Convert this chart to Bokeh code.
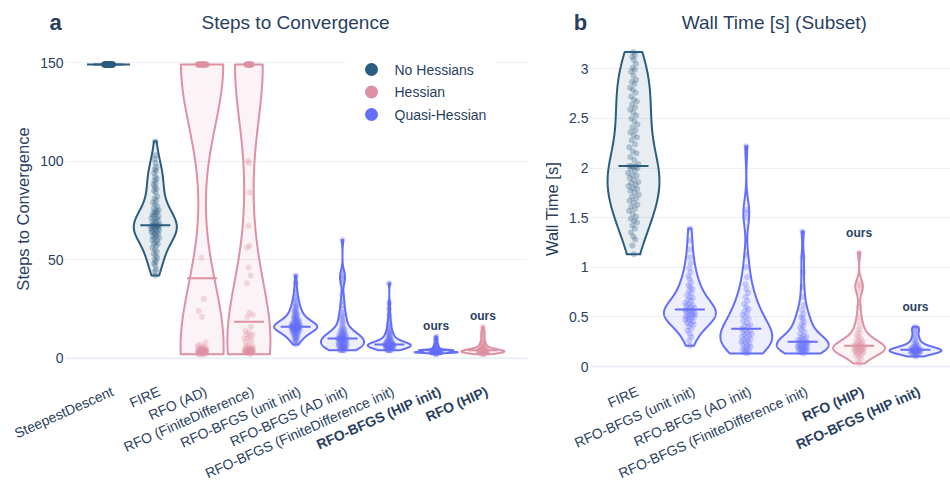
import numpy as np
from bokeh.plotting import figure
from bokeh.layouts import row
from bokeh.models import Span, Range1d, NumeralTickFormatter
from bokeh.core.properties import value
from bokeh.embed import file_html
from bokeh.resources import INLINE

FONT = "Liberation Sans"
INK = "#2a3f5f"
GRID = "#ebf0f8"
FAMILY_COLORS = {"No Hessians": "#2a5d80", "Hessian": "#dd91a2", "Quasi-Hessian": "#636efa"}
legend_labels = ["No Hessians", "Hessian", "Quasi-Hessian"]

# ---------------- panel a : steps to convergence ----------------
steps_categories = ["SteepestDescent", "FIRE", "RFO (AD)", "RFO (FiniteDifference)",
                    "RFO-BFGS (unit init)", "RFO-BFGS (AD init)",
                    "RFO-BFGS (FiniteDifference init)", "RFO-BFGS (HIP init)", "RFO (HIP)"]
steps_family = ["No Hessians", "No Hessians", "Hessian", "Hessian", "Quasi-Hessian",
                "Quasi-Hessian", "Quasi-Hessian", "Quasi-Hessian", "Hessian"]
steps_ours = [False, False, False, False, False, False, False, True, True]
steps_ticks = [0, 50, 100, 150]

steepest_descent_steps = [149] * 80
fire_steps = [42, 44, 45, 47, 48, 49, 50, 51, 52, 53,
              54, 55, 56, 57, 58, 58, 59, 60, 60, 61,
              61, 62, 62, 63, 63, 64, 64, 64, 65, 65,
              65, 66, 66, 66, 67, 67, 67, 67, 67, 67,
              68, 68, 69, 69, 70, 70, 71, 71, 72, 72,
              73, 73, 74, 74, 75, 75, 76, 77, 78, 79,
              80, 81, 82, 84, 85, 86, 87, 88, 89, 90,
              91, 92, 94, 95, 96, 97, 99, 101, 103, 110]
rfo_ad_steps = [2, 2, 2, 2, 2, 3, 3, 3, 3, 3, 3, 3, 3, 3, 3, 3, 3, 3, 4, 4,
                4, 4, 4, 4, 4, 4, 4, 4, 5, 5, 5, 5, 5, 6, 6, 7, 8, 21, 24, 30,
                51] + [149] * 39
rfo_fd_steps = [2, 3, 3, 3, 3, 3, 3, 3, 3, 3, 3, 3, 3, 4, 4, 4, 4, 4, 4, 4,
                4, 4, 5, 5, 5, 5, 5, 6, 6, 7, 8, 9, 10, 10, 11, 12, 12, 13, 14, 16,
                21, 22, 23, 38, 42, 46, 56, 57, 67, 84, 99, 100] + [149] * 28
bfgs_unit_steps = [7, 8, 9, 9, 10, 10, 11, 11, 11, 12,
                   12, 12, 13, 13, 13, 13, 14, 14, 14, 14,
                   14, 15, 15, 15, 15, 15, 15, 15, 16, 16,
                   16, 16, 16, 16, 16, 16, 16, 16, 16, 16,
                   16, 17, 17, 17, 17, 17, 17, 18, 18, 18,
                   18, 18, 19, 19, 19, 19, 20, 20, 20, 21,
                   21, 21, 22, 22, 23, 23, 24, 24, 25, 26,
                   26, 27, 28, 29, 30, 31, 33, 35, 38, 42]
bfgs_ad_steps = [4, 4, 4, 4, 4, 5, 5, 5, 5, 5,
                 5, 6, 6, 6, 6, 6, 6, 7, 7, 7,
                 7, 7, 8, 8, 8, 8, 8, 9, 9, 9,
                 9, 9, 10, 10, 10, 10, 10, 10, 10, 10,
                 11, 11, 11, 11, 12, 12, 12, 12, 13, 13,
                 13, 14, 14, 15, 15, 16, 17, 18, 19, 20,
                 21, 22, 23, 25, 27, 29, 32, 38, 40, 41,
                 42, 44, 60]
bfgs_fd_steps = [4, 4, 4, 4, 4, 5, 5, 5, 5, 5,
                 5, 5, 5, 6, 6, 6, 6, 6, 6, 6,
                 6, 6, 6, 6, 7, 7, 7, 7, 7, 7,
                 7, 7, 7, 7, 7, 7, 7, 7, 8, 8,
                 8, 8, 8, 8, 9, 9, 9, 9, 10, 10,
                 10, 11, 11, 12, 12, 13, 13, 14, 15, 16,
                 17, 18, 20, 22, 25, 28, 38]
bfgs_hip_steps = [2, 2, 3, 3, 3, 3, 3, 3, 3, 3,
                  3, 3, 3, 3, 3, 3, 3, 3, 3, 3,
                  3, 3, 3, 3, 3, 3, 4, 4, 4, 4,
                  4, 4, 4, 4, 4, 4, 4, 4, 4, 4,
                  4, 4, 4, 4, 4, 5, 5, 5, 5, 6,
                  6, 6, 7, 7, 8, 9, 10, 11]
rfo_hip_steps = [2, 2, 2, 3, 3, 3, 3, 3, 3, 3,
                 3, 3, 3, 3, 3, 3, 3, 3, 3, 3,
                 3, 3, 4, 4, 4, 4, 4, 4, 4, 4,
                 4, 4, 4, 4, 4, 4, 4, 5, 5, 5,
                 5, 5, 6, 6, 6, 7, 7, 8, 8, 9,
                 10, 11, 12, 13, 14, 16]
steps_series = [steepest_descent_steps, fire_steps, rfo_ad_steps, rfo_fd_steps,
                bfgs_unit_steps, bfgs_ad_steps, bfgs_fd_steps, bfgs_hip_steps, rfo_hip_steps]

# ---------------- panel b : wall time ----------------
time_categories = ["FIRE", "RFO-BFGS (unit init)", "RFO-BFGS (AD init)",
                   "RFO-BFGS (FiniteDifference init)", "RFO (HIP)", "RFO-BFGS (HIP init)"]
time_family = ["No Hessians", "Quasi-Hessian", "Quasi-Hessian", "Quasi-Hessian",
               "Hessian", "Quasi-Hessian"]
time_ours = [False, False, False, False, True, True]
time_ticks = [0, 0.5, 1, 1.5, 2, 2.5, 3]

fire_time = [1.13, 1.22, 1.28, 1.31, 1.35, 1.39, 1.42, 1.45, 1.47, 1.49,
             1.51, 1.54, 1.57, 1.59, 1.61, 1.63, 1.65, 1.67, 1.69, 1.71,
             1.73, 1.75, 1.77, 1.79, 1.80, 1.82, 1.83, 1.85, 1.86, 1.88,
             1.90, 1.92, 1.93, 1.95, 1.97, 1.99, 2.00, 2.01, 2.02, 2.02,
             2.02, 2.04, 2.08, 2.11, 2.15, 2.17, 2.21, 2.24, 2.28, 2.31,
             2.33, 2.36, 2.38, 2.41, 2.44, 2.47, 2.50, 2.53, 2.56, 2.59,
             2.61, 2.64, 2.67, 2.69, 2.72, 2.76, 2.79, 2.81, 2.85, 2.87,
             2.89, 2.93, 2.97, 2.99, 3.01, 3.05, 3.09, 3.12, 3.14, 3.17]
bfgs_unit_time = [0.21, 0.26, 0.30, 0.33, 0.36, 0.38, 0.40, 0.42, 0.43, 0.44,
                  0.45, 0.46, 0.47, 0.48, 0.49, 0.50, 0.50, 0.51, 0.52, 0.52,
                  0.53, 0.54, 0.55, 0.55, 0.56, 0.57, 0.57, 0.58, 0.59, 0.60,
                  0.61, 0.62, 0.63, 0.64, 0.66, 0.67, 0.69, 0.70, 0.72, 0.74,
                  0.76, 0.78, 0.80, 0.82, 0.85, 0.88, 0.91, 0.95, 0.99, 1.04,
                  1.10, 1.18, 1.27, 1.39]
bfgs_ad_time = [0.13, 0.14, 0.15, 0.16, 0.17, 0.18, 0.19, 0.20, 0.21, 0.22,
                0.23, 0.24, 0.25, 0.26, 0.27, 0.28, 0.29, 0.30, 0.31, 0.32,
                0.33, 0.34, 0.35, 0.36, 0.37, 0.38, 0.40, 0.41, 0.42, 0.44,
                0.46, 0.48, 0.50, 0.52, 0.54, 0.56, 0.58, 0.60, 0.63, 0.66,
                0.70, 0.74, 0.78, 0.83, 0.90, 1.00, 1.12, 1.50, 1.55, 1.58, 2.22]
bfgs_fd_time = [0.13, 0.14, 0.15, 0.15, 0.16, 0.16, 0.17, 0.17, 0.18, 0.18,
                0.19, 0.19, 0.20, 0.20, 0.21, 0.21, 0.22, 0.22, 0.23, 0.23,
                0.24, 0.24, 0.25, 0.25, 0.26, 0.27, 0.28, 0.29, 0.30, 0.31,
                0.33, 0.35, 0.37, 0.39, 0.41, 0.43, 0.45, 0.48, 0.50, 0.53,
                0.57, 0.62, 0.70, 0.80, 0.95, 1.10, 1.36]
rfo_hip_time = [0.03, 0.06, 0.08, 0.10, 0.11, 0.12, 0.13, 0.14, 0.14, 0.15,
                0.15, 0.16, 0.16, 0.17, 0.17, 0.18, 0.18, 0.19, 0.19, 0.20,
                0.20, 0.20, 0.21, 0.21, 0.22, 0.22, 0.23, 0.24, 0.25, 0.26,
                0.27, 0.28, 0.30, 0.32, 0.34, 0.37, 0.40, 0.45, 0.50, 0.60,
                0.75, 0.80, 0.82, 0.85, 1.15]
bfgs_hip_time = [0.10, 0.11, 0.12, 0.12, 0.13, 0.13, 0.14, 0.14, 0.14, 0.15,
                 0.15, 0.15, 0.15, 0.16, 0.16, 0.16, 0.16, 0.17, 0.17, 0.17,
                 0.17, 0.18, 0.18, 0.18, 0.19, 0.19, 0.20, 0.20, 0.21, 0.22,
                 0.23, 0.24, 0.26, 0.28, 0.30, 0.33, 0.36, 0.38, 0.40]
time_series = [fire_time, bfgs_unit_time, bfgs_ad_time, bfgs_fd_time, rfo_hip_time, bfgs_hip_time]

# ---------------- layout constants (pixels) ----------------
H = 484
TOP, BOTTOM = 45, 372
HALF = 0.46      # violin half width in category units
JIT = 0.22       # jitter as fraction of local half width
TICK_ANGLE = np.radians(24)
TICK_LABEL_PX = 390


class Geo:
    def __init__(self, win_x0, width, mb_left, mb_right, cat0_px, cat_step, zero_px, ppu):
        self.win_x0, self.width, self.mbl, self.mbr = win_x0, width, mb_left, mb_right
        self.fl = win_x0 + mb_left
        self.fr = win_x0 + width - mb_right
        self.xr = ((self.fl - cat0_px) / cat_step, (self.fr - cat0_px) / cat_step)
        y0 = -(BOTTOM - zero_px) / ppu
        self.yr = (y0, y0 + (BOTTOM - TOP) / ppu)

    def x(self, px):
        return self.xr[0] + (px - self.fl) / (self.fr - self.fl) * (self.xr[1] - self.xr[0])

    def y(self, py):
        return self.yr[0] + (BOTTOM - py) / (BOTTOM - TOP) * (self.yr[1] - self.yr[0])


def silverman(v):
    n = len(v)
    sd = v.std(ddof=1)
    q1, q3 = np.percentile(v, [25, 75])
    a = min(sd, (q3 - q1) / 1.349)
    if a <= 0:
        a = sd
    return 1.059 * a * n ** -0.2


def kde(v, grid, bw):
    z = (grid[:, None] - v[None, :]) / bw
    return np.exp(-0.5 * z * z).sum(axis=1)


def draw_violin(p, i, vals, color):
    v = np.asarray(vals, dtype=float)
    lo, hi = v.min(), v.max()
    if hi - lo < 1e-9:
        p.line([i - HALF, i + HALF], [lo, lo], line_color=color, line_width=2)
        hw_pts = np.full(len(v), HALF)
    else:
        bw = silverman(v)
        grid = np.linspace(lo, hi, 400)
        d = kde(v, grid, bw)
        dmax = d.max()
        hw = HALF * d / dmax
        xs = np.concatenate([i + hw, (i - hw)[::-1]])
        ys = np.concatenate([grid, grid[::-1]])
        p.patch(xs, ys, fill_color=color, fill_alpha=0.11, line_color=color,
                line_width=2, line_join="round")
        hw_pts = HALF * kde(v, v, bw) / dmax
    k = np.arange(1, len(v) + 1)
    u = 2.0 * ((k * 0.6180339887) % 1.0) - 1.0
    p.scatter(i + JIT * hw_pts * u, v, size=6, fill_color=color, fill_alpha=0.3, line_color=None)
    p.scatter([i], [float(np.median(v))], marker="dash", size=30, line_color=color, line_width=2)


def free_text(p, xs, ys, texts, size, styles=None, align="center", angle=0.0, baseline="middle"):
    if styles is None:
        styles = ["normal"] * len(texts)
    p.text(x=list(xs), y=list(ys), text=list(texts), angle=angle, text_align=align,
           text_baseline=baseline, text_font=value(FONT), text_font_size=value(size),
           text_font_style=list(styles), text_color=INK, level="overlay")


def make_panel(geo, cats, fams, ours, series, ticks, ylabel, title, letter,
               letter_px, title_px, ours_off, fmt=None):
    p = figure(width=geo.width, height=H, output_backend="svg", toolbar_location=None,
               x_range=Range1d(*geo.xr), y_range=Range1d(*geo.yr),
               min_border_left=geo.mbl, min_border_right=geo.mbr,
               min_border_top=TOP, min_border_bottom=H - BOTTOM)
    p.outline_line_color = None
    p.background_fill_color = "white"
    p.xaxis.visible = False
    p.xgrid.visible = False
    p.ygrid.grid_line_color = GRID
    p.ygrid.grid_line_width = 1
    p.yaxis.ticker = ticks
    if fmt is not None:
        p.yaxis.formatter = fmt
    p.yaxis.axis_line_color = None
    p.yaxis.major_tick_line_color = None
    p.yaxis.minor_tick_line_color = None
    p.yaxis.major_tick_out = 0
    p.yaxis.major_label_standoff = 2
    p.yaxis.major_label_text_font = FONT
    p.yaxis.major_label_text_font_size = "14px"
    p.yaxis.major_label_text_color = INK
    p.yaxis.axis_label = ylabel
    p.yaxis.axis_label_text_font = FONT
    p.yaxis.axis_label_text_font_size = "16.5px"
    p.yaxis.axis_label_text_font_style = "normal"
    p.yaxis.axis_label_text_color = INK
    p.yaxis.axis_label_standoff = 5

    p.add_layout(Span(location=0, dimension="width", line_color=GRID, line_width=2,
                      level="underlay"))

    ours_x, ours_y = [], []
    for i, (vals, fam) in enumerate(zip(series, fams)):
        draw_violin(p, i, vals, FAMILY_COLORS[fam])
        if ours[i]:
            ours_x.append(i)
            ours_y.append(max(vals) + ours_off)
    free_text(p, ours_x, ours_y, ["ours"] * len(ours_x), "12px", styles=["bold"] * len(ours_x))

    # category tick labels (the two "ours" methods in bold)
    y_lab = geo.y(TICK_LABEL_PX)
    dx = geo.x(geo.fl + 4) - geo.x(geo.fl)
    free_text(p, [i + dx for i in range(len(cats))], [y_lab] * len(cats), cats, "14px",
              styles=["bold" if o else "normal" for o in ours], align="right", angle=TICK_ANGLE)

    free_text(p, [geo.x(title_px)], [geo.y(21.5)], [title], "19px")
    free_text(p, [geo.x(letter_px)], [geo.y(21.5)], [letter], "22px", styles=["bold"])
    return p


geo_a = Geo(win_x0=0, width=535, mb_left=65, mb_right=8, cat0_px=108, cat_step=46.8,
            zero_px=357.7, ppu=1.9713)
geo_b = Geo(win_x0=535, width=415, mb_left=55, mb_right=0, cat0_px=633, cat_step=56.4,
            zero_px=366, ppu=99.23)

pa = make_panel(geo_a, steps_categories, steps_family, steps_ours, steps_series, steps_ticks,
                "Steps to Convergence", "Steps to Convergence", "a", 55, 295, 5.5)
pb = make_panel(geo_b, time_categories, time_family, time_ours, time_series, time_ticks,
                "Wall Time [s]", "Wall Time [s] (Subset)", "b", 580, 774, 0.2,
                fmt=NumeralTickFormatter(format="0.[0]"))

# legend drawn in panel a (white box hides the gridline, as in the original)
pa.quad(left=[geo_a.x(345)], right=[geo_a.x(496)], top=[geo_a.y(50)], bottom=[geo_a.y(126)],
        fill_color="white", line_color=None)
leg_y = [geo_a.y(69 + 22.5 * j) for j in range(len(legend_labels))]
pa.scatter([geo_a.x(371)] * len(legend_labels), leg_y, size=13,
           fill_color=[FAMILY_COLORS[l] for l in legend_labels], line_color=None)
free_text(pa, [geo_a.x(394)] * len(legend_labels), leg_y, legend_labels, "14px", align="left")

layout = row(pa, pb)
open("out.html", "w").write(file_html(layout, INLINE))
